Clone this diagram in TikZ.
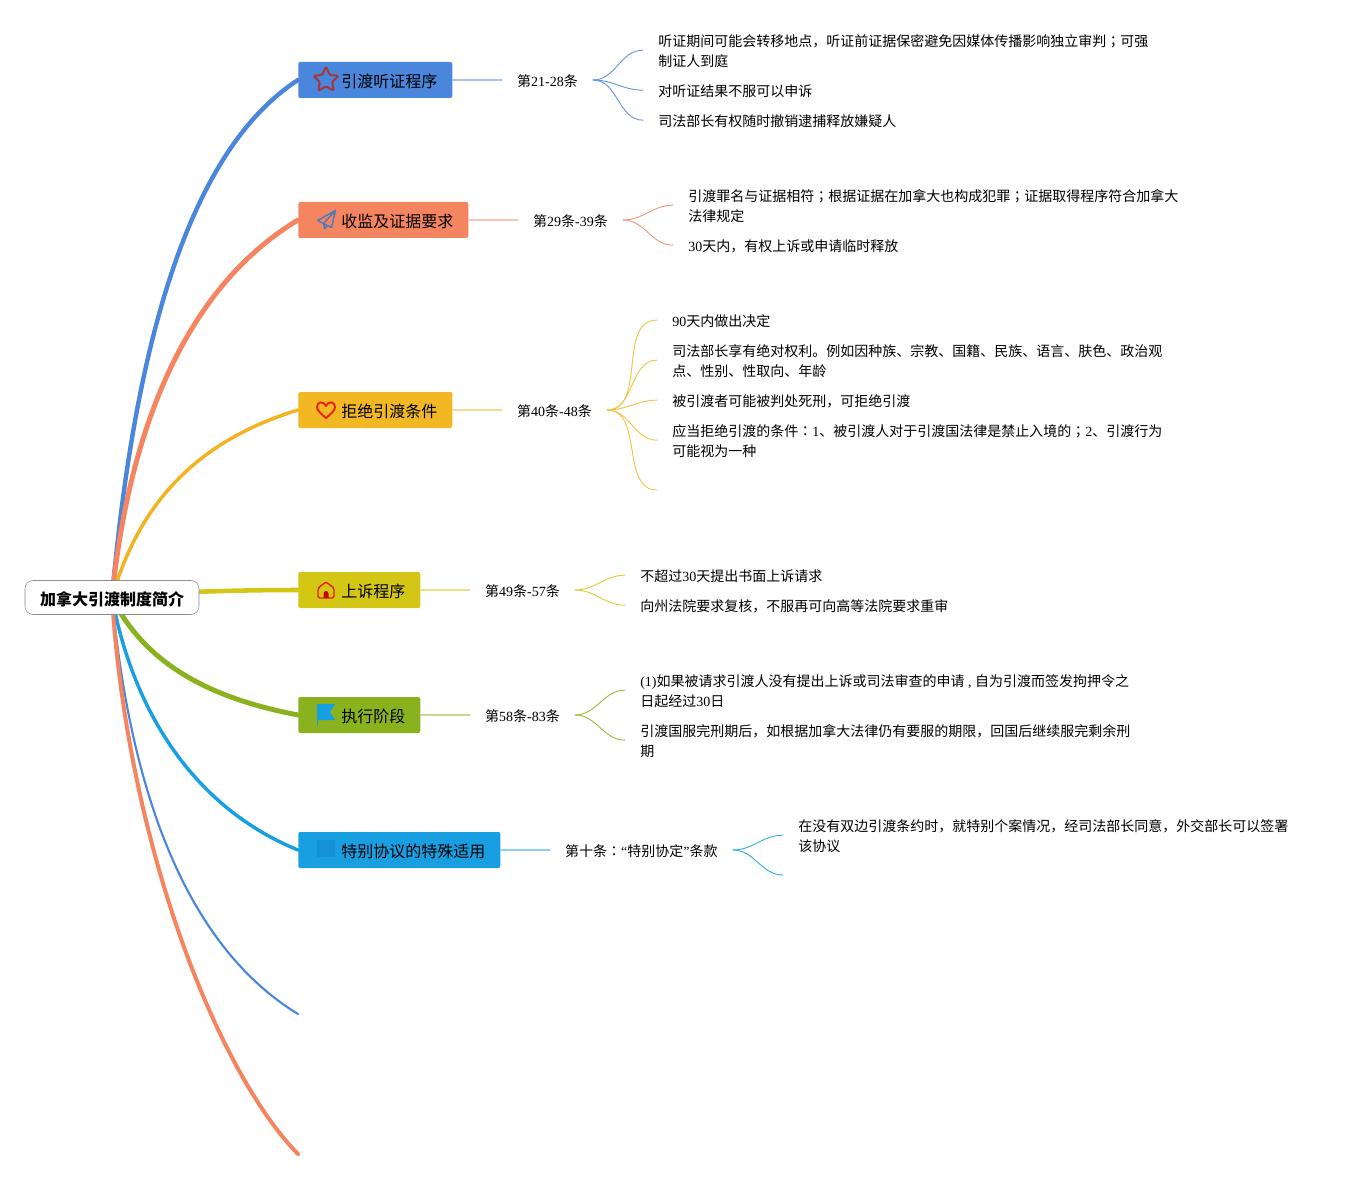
\documentclass[tikz,border=0pt]{standalone}
\usepackage{fontspec}
\setmainfont{Noto Sans CJK SC}
\newfontfamily\latinfont{Liberation Serif}
\newfontfamily\puncfont{Noto Sans CJK TC}
\newcommand{\lat}[1]{{\latinfont #1}}
\newcommand{\semi}{{\puncfont ；}}
\newcommand{\colonz}{{\puncfont ：}}
\usepackage{tikz}
\usetikzlibrary{arrows.meta,shapes,positioning,backgrounds}
\definecolor{cBlue}{HTML}{4A86DC}
\definecolor{cOrange}{HTML}{F58561}
\definecolor{cYellow}{HTML}{F2B824}
\definecolor{cOlive}{HTML}{D4C614}
\definecolor{cGreen}{HTML}{8AB21E}
\definecolor{cCyan}{HTML}{189FE2}
\tikzset{
    rootbox/.style={draw=black!45,fill=white,rounded corners=6pt,minimum width=130.5pt,minimum height=25.5pt,inner sep=0pt,
        text height=11.5pt,text depth=.2pt,font=\fontsize{12}{15}\selectfont\bfseries},
    branchbox/.style={fill=#1,rounded corners=1.5pt,anchor=west,minimum height=27pt,inner xsep=11.25pt,inner ysep=0pt,
        text height=11pt,text depth=.38pt,font=\fontsize{12}{15}\selectfont},
    sectionbox/.style={inner xsep=11.25pt,inner ysep=0pt,text height=10pt,text depth=.52pt,font=\fontsize{10.5}{15}\selectfont},
    detailbox/.style={anchor=west,align=left,inner xsep=11.25pt,inner ysep=0pt,font=\fontsize{10.5}{15}\selectfont},
    mainline/.style={line width=#1,line cap=round},
    stemline/.style={line width=1pt,draw=#1!50},
    subline/.style={line width=.7pt,draw=#1!85!white},
}
\newcommand{\drawPlane}[1]{
    \begin{scope}[shift={(#1)}]
        \draw[line width=1.1pt,draw=cBlue!80!black!90,line join=round] (9,-9) -- (-9,1) -- (-3,4) -- (9,-9) -- (5,8) -- (-3,4) -- (-2,9) -- (1,6);
    \end{scope}
}
\newcommand{\drawHeart}[1]{
    \begin{scope}[shift={(#1)}]
        \draw[line width=1.5pt,draw=red!65!orange!90!black,line join=round] (0,8) .. controls (-6,3) and (-9,0) .. (-9,-3) .. controls (-9,-9) and (-2,-9) .. (0,-4) .. controls (2,-9) and (9,-9) .. (9,-3) .. controls (9,0) and (6,3) .. (0,8) -- cycle;
    \end{scope}
}
\newcommand{\drawHouse}[1]{
    \begin{scope}[shift={(#1)}]
        \draw[line width=1.1pt,draw=red!70!orange!90!black,rounded corners=1.2pt] (-8,8) -- (-8,-2) -- (0,-8) -- (8,-2) -- (8,8) -- cycle;
        \fill[red!80!black] (-2.5,8) -- (-2.5,3.5) arc[start angle=180,end angle=360,radius=2.5] -- (2.5,8) -- cycle;
    \end{scope}
}
\newcommand{\drawFlag}[2]{
    \begin{scope}[shift={(#1)}]
        \fill[#2] (-9,-10) -- (9,-10) -- (4,-2) -- (9,6) -- (-8,6) -- (-8,11) -- (-9,11) -- cycle;
    \end{scope}
}
\begin{document}
\begin{tikzpicture}[x=.75pt,y=-.75pt,line cap=round,line join=round]
    \useasboundingbox (0,0) rectangle (1358,1180);

    % --- Root and branches ---
    \node[rootbox] (root) at (112,597.5) {加拿大引渡制度简介};

    \node[branchbox=cBlue] (hearing) at (298,80) {\hspace*{21pt}引渡听证程序};
    \node[branchbox=cOrange] (evidence) at (298,220) {\hspace*{21pt}收监及证据要求};
    \node[branchbox=cYellow] (refusal) at (298,410) {\hspace*{21pt}拒绝引渡条件};
    \node[branchbox=cOlive] (appeal) at (298,590) {\hspace*{21pt}上诉程序};
    \node[branchbox=cGreen] (execution) at (298,715) {\hspace*{21pt}执行阶段};
    \node[branchbox=cCyan] (special) at (298,850) {\hspace*{21pt}特别协议的特殊适用};

    \coordinate (blueEnd) at (298,1014);
    \coordinate (orangeEnd) at (298,1154);

    % Thick curves from the root
    \begin{scope}[on background layer]
        \draw[mainline=3.3pt,cBlue] (root.center) .. controls (135,340) and (190,150) .. (hearing.west);
        \draw[mainline=3.7pt,cOrange] (root.center) .. controls (130,420) and (190,285) .. (evidence.west);
        \draw[mainline=2.6pt,cYellow!90!orange] (root.center) .. controls (140,500) and (200,440) .. (refusal.west);
        \draw[mainline=3.4pt,cOlive] (root.center) .. controls (160,592) and (240,590) .. (appeal.west);
        \draw[mainline=3.7pt,cGreen] (root.center) .. controls (148,670) and (220,700) .. (execution.west);
        \draw[mainline=2.6pt,cCyan] (root.center) .. controls (135,720) and (200,810) .. (special.west);
        \draw[mainline=1.6pt,cBlue] (root.center) .. controls (130,790) and (185,945) .. (blueEnd);
        \draw[mainline=3pt,cOrange] (root.center) .. controls (128,850) and (220,1075) .. (orangeEnd);
    \end{scope}

    % --- Icons ---
    \node[star,star points=5,star point ratio=2.1,draw=red!60!black!80,line width=1.4pt,rounded corners=1pt,minimum size=20pt,inner sep=0pt] (starIcon) at (326,80) {};
    \drawPlane{326.5,219.5}
    \drawHeart{326,410}
    \drawHouse{326,590}
    \drawFlag{326,714}{cCyan}
    \fill[cCyan!95!blue!95!black] (317,840) rectangle (335,857);

    % --- Sections ---
    \node[sectionbox,right=37pt of hearing.east] (s1) {第\lat{21-28}条};
    \node[sectionbox,right=37pt of evidence.east] (s2) {第\lat{29}条\lat{-39}条};
    \node[sectionbox,right=37pt of refusal.east] (s3) {第\lat{40}条\lat{-48}条};
    \node[sectionbox,right=37pt of appeal.east] (s4) {第\lat{49}条\lat{-57}条};
    \node[sectionbox,right=37pt of execution.east] (s5) {第\lat{58}条\lat{-83}条};
    \node[sectionbox,right=37pt of special.east] (s6) {第十条\colonz\lat{“}特别协定\lat{”}条款};

    \draw[stemline=cBlue] (hearing.east) -- (s1.west);
    \draw[stemline=cOrange] (evidence.east) -- (s2.west);
    \draw[stemline=cYellow] (refusal.east) -- (s3.west);
    \draw[stemline=cOlive] (appeal.east) -- (s4.west);
    \draw[stemline=cGreen] (execution.east) -- (s5.west);
    \draw[stemline=cCyan] (special.east) -- (s6.west);

    % --- Details ---
    \node[detailbox] (d11) at (643,51.5) {听证期间可能会转移地点，听证前证据保密避免因媒体传播影响独立审判\semi 可强\\制证人到庭};
    \node[detailbox] (d12) at (643,91.5) {对听证结果不服可以申诉};
    \node[detailbox] (d13) at (643,121.5) {司法部长有权随时撤销逮捕释放嫌疑人};

    \node[detailbox] (d21) at (673,206.5) {引渡罪名与证据相符\semi 根据证据在加拿大也构成犯罪\semi 证据取得程序符合加拿大\\法律规定};
    \node[detailbox] (d22) at (673,246.5) {\lat{30}天内，有权上诉或申请临时释放};

    \node[detailbox] (d31) at (657,321.5) {\lat{90}天内做出决定};
    \node[detailbox] (d32) at (657,361.5) {司法部长享有绝对权利。例如因种族、宗教、国籍、民族、语言、肤色、政治观\\点、性别、性取向、年龄};
    \node[detailbox] (d33) at (657,401.5) {被引渡者可能被判处死刑，可拒绝引渡};
    \node[detailbox] (d34) at (657,441.5) {应当拒绝引渡的条件\colonz\lat{1}、被引渡人对于引渡国法律是禁止入境的\semi\lat{2}、引渡行为\\可能视为一种};
    \coordinate (d35) at (657,490);

    \node[detailbox] (d41) at (625,576.5) {不超过\lat{30}天提出书面上诉请求};
    \node[detailbox] (d42) at (625,606.5) {向州法院要求复核，不服再可向高等法院要求重审};

    \node[detailbox] (d51) at (625,691.5) {\lat{(1)}如果被请求引渡人没有提出上诉或司法审查的申请\lat{ , }自为引渡而签发拘押令之\\日起经过\lat{30}日};
    \node[detailbox] (d52) at (625,741.5) {引渡国服完刑期后，如根据加拿大法律仍有要服的期限，回国后继续服完剩余刑\\期};

    \node[detailbox] (d61) at (783,836.5) {在没有双边引渡条约时，就特别个案情况，经司法部长同意，外交部长可以签署\\该协议};
    \coordinate (d62) at (783,875);

    % Thin curves to the details
    \foreach \d in {d11,d12,d13} \draw[subline=cBlue] (s1.east) to[out=0,in=180] ([yshift=1pt]\d.west);
    \foreach \d in {d21,d22} \draw[subline=cOrange] (s2.east) to[out=0,in=180] ([yshift=1pt]\d.west);
    \foreach \d in {d31,d32,d33,d34} \draw[subline=cYellow] (s3.east) to[out=0,in=180] ([yshift=1pt]\d.west);
    \draw[subline=cYellow] (s3.east) to[out=0,in=180] (d35);
    \foreach \d in {d41,d42} \draw[subline=cOlive] (s4.east) to[out=0,in=180] ([yshift=1pt]\d.west);
    \foreach \d in {d51,d52} \draw[subline=cGreen] (s5.east) to[out=0,in=180] ([yshift=1pt]\d.west);
    \draw[subline=cCyan] (s6.east) to[out=0,in=180] ([yshift=1pt]d61.west);
    \draw[subline=cCyan] (s6.east) to[out=0,in=180] (d62);
\end{tikzpicture}
\end{document}
